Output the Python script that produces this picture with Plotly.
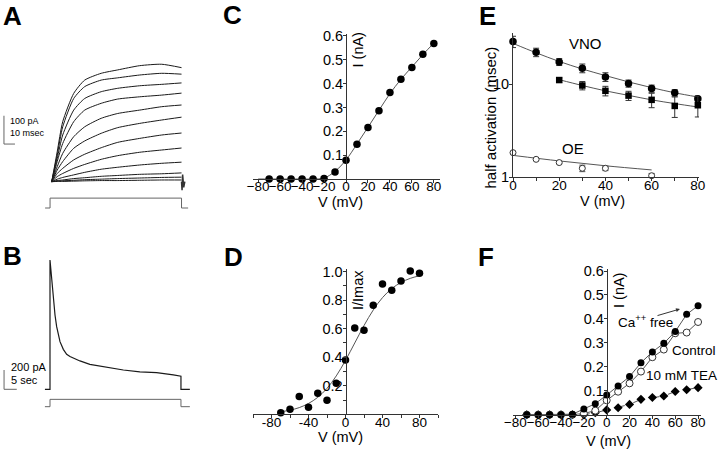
import plotly.graph_objects as go

W, H = 720, 451
FONT = "Liberation Sans, Arial, sans-serif"

# ---------------- data ----------------
# Panel A: current traces (pA) sampled at times (ms)
A_t = [0, 5, 10, 20, 30, 45, 60, 80, 100, 118]
A_traces = [
    [0, 106, 212, 312, 359, 383, 395, 410, 415, 403],
    [0, 94, 194, 294, 336, 359, 367, 377, 383, 380],
    [0, 82, 165, 253, 294, 318, 330, 339, 344, 349],
    [0, 71, 135, 212, 253, 277, 292, 300, 306, 313],
    [0, 53, 100, 159, 194, 224, 241, 253, 265, 271],
    [0, 41, 71, 118, 144, 171, 191, 206, 218, 228],
    [0, 29, 47, 77, 97, 120, 139, 153, 165, 172],
    [0, 18, 29, 47, 61, 79, 92, 104, 112, 119],
    [0, 9, 15, 24, 33, 44, 51, 59, 65, 69],
    [0, 4, 6, 11, 14, 19, 22, 26, 28, 31],
    [0, 2, 3, 5, 7, 9, 11, 13, 15, 16],
    [0, 1, 1, 2, 3, 4, 4, 5, 6, 6],
]
A_step_t = [-6, -1.5, -1.5, 118, 118, 124]
A_step_v = [-93, -93, -58, -58, -93, -93]
A_bar_t = [-43.4, -43.4, -33.4]
A_bar_v = [233, 133, 133]
A_tail_t = [118, 118.5, 119, 120, 121]
A_tail_v = [0, -30, 25, -20, 0]

# Panel B: slow current (pA) vs time (s)
B_t = [-2, 0, 0, 0.66, 1.31, 1.97, 2.62, 3.28, 3.94, 5.25, 6.56, 7.87, 9.19,
       11.8, 15.7, 22.3, 28.9, 35.4, 42.0, 48.6, 51.2, 51.6, 51.6, 55.1]
B_i = [0, 0, 1340, 1133, 926, 770, 649, 563, 494, 414, 363, 339, 321,
       294, 259, 228, 200, 180, 173, 149, 138, 136, 0, 0]
B_step_t = [-2, 0, 0, 51.6, 51.6, 55.1]
B_step_v = [-180, -180, -104, -104, -180, -180]
B_bar_t = [-18.1, -18.1, -13.1]
B_bar_v = [200, 0, 0]

# Panel C: I-V
C_v = [-70, -60, -50, -40, -30, -20, -10, 0, 10, 20, 30, 40, 50, 60, 70, 80]
C_i = [0, 0, 0, 0, 0, 0.002, 0.029, 0.079, 0.146, 0.216, 0.286, 0.363, 0.418, 0.468, 0.523, 0.568]
C_fit_v = [-80, -70, -60, -50, -40, -30, -20, -10, 0, 10, 20, 30, 40, 50, 60, 70, 80]
C_fit_i = [0, 0, 0, 0, 0, 0, 0.004, 0.032, 0.08, 0.147, 0.217, 0.288, 0.358, 0.418, 0.47, 0.522, 0.57]

# Panel D: normalised conductance
D_v = [-70, -60, -50, -40, -30, -20, -10, 0, 10, 20, 30, 40, 50, 60, 70, 80]
D_g = [0.01, 0.035, 0.124, 0.05, 0.147, 0.098, 0.217, 0.38, 0.605, 0.589, 0.764, 0.913, 0.869, 0.935, 1.005, 0.988]
D_fit_v = [-70, -60, -50, -40, -30, -20, -10, 0, 10, 20, 30, 40, 50, 60, 70, 80]
D_fit_g = [0.018, 0.029, 0.047, 0.076, 0.119, 0.182, 0.269, 0.378, 0.5, 0.622, 0.731, 0.818, 0.881, 0.924, 0.953, 0.971]

# Panel E: half activation time (msec)
E_v = [0, 10, 20, 30, 40, 50, 60, 70, 80]
E_vno1 = [28.8, 22.1, 17.4, 14.9, 12.0, 10.2, 9.0, 8.1, 7.0]
E_vno1_err = [4.0, 2.3, 1.5, 1.6, 1.3, 0.9, 0.8, 0.65, 0.5]
E_vno1_fit = [27.5, 21.8, 17.6, 14.6, 12.4, 10.6, 9.2, 8.1, 7.3]
E_v2 = [20, 30, 40, 50, 60, 70, 80]
E_vno2 = [11.1, 9.7, 8.5, 7.55, 6.8, 5.85, 5.95]
E_vno2_err = [0.6, 1.0, 1.0, 0.85, 1.2, 1.45, 1.5]
E_vno2_fit = [11.2, 9.7, 8.5, 7.6, 6.8, 6.2, 5.7]
E_v3 = [0, 10, 20, 30, 40, 50, 60]
E_oe = [1.84, 1.56, 1.44, 1.25, 1.25, 0.99, 1.04]
E_oe_err = [0.06, 0.03, 0.04, 0.1, 0.07, 0.0, 0.06]
E_oe_fit_v = [0, 20, 40, 60]
E_oe_fit = [1.72, 1.5, 1.33, 1.2]

# Panel F: I-V under conditions
F_v = [-70, -60, -50, -40, -30, -20, -10, 0, 10, 20, 30, 40, 50, 60, 70, 80]
F_ca_free = [0, 0, 0, 0, 0.002, 0.024, 0.046, 0.082, 0.12, 0.159, 0.217, 0.262, 0.298, 0.347, 0.419, 0.455]
F_control = [0, 0, 0, 0, 0, 0.005, 0.017, 0.06, 0.096, 0.131, 0.18, 0.24, 0.272, 0.34, 0.343, 0.387]
F_tea = [0, 0, 0, 0, 0, 0, 0.008, 0.02, 0.029, 0.043, 0.064, 0.072, 0.078, 0.097, 0.104, 0.113]


def px(x):
    return x / W


def py(y):
    return 1 - y / H


fig = go.Figure()
TRACE = "#1a1a1a"
FIT = "#555555"

# ---- Panel A ----
for tr in A_traces:
    fig.add_trace(go.Scatter(x=A_t, y=tr, mode="lines", line=dict(color=TRACE, width=1, shape="spline", smoothing=0.6),
                             xaxis="x5", yaxis="y5"))
fig.add_trace(go.Scatter(x=A_tail_t, y=A_tail_v, mode="lines", line=dict(color="#333", width=1.5), xaxis="x5", yaxis="y5"))
fig.add_trace(go.Scatter(x=A_step_t, y=A_step_v, mode="lines", line=dict(color="#666", width=1), xaxis="x5", yaxis="y5"))
fig.add_trace(go.Scatter(x=A_bar_t, y=A_bar_v, mode="lines", line=dict(color="#666", width=1), xaxis="x5", yaxis="y5"))

# ---- Panel B ----
fig.add_trace(go.Scatter(x=B_t, y=B_i, mode="lines", line=dict(color=TRACE, width=1.2), xaxis="x6", yaxis="y6"))
fig.add_trace(go.Scatter(x=B_step_t, y=B_step_v, mode="lines", line=dict(color="#666", width=1), xaxis="x6", yaxis="y6"))
fig.add_trace(go.Scatter(x=B_bar_t, y=B_bar_v, mode="lines", line=dict(color="#666", width=1), xaxis="x6", yaxis="y6"))

# ---- Panel C ----
fig.add_trace(go.Scatter(x=C_fit_v, y=C_fit_i, mode="lines", line=dict(color=FIT, width=1, shape="spline"), xaxis="x", yaxis="y"))
fig.add_trace(go.Scatter(x=C_v, y=C_i, mode="markers", marker=dict(color="black", size=7.5), cliponaxis=False, xaxis="x", yaxis="y"))

# ---- Panel D ----
fig.add_trace(go.Scatter(x=D_fit_v, y=D_fit_g, mode="lines", line=dict(color=FIT, width=1, shape="spline"), xaxis="x2", yaxis="y2"))
fig.add_trace(go.Scatter(x=D_v, y=D_g, mode="markers", marker=dict(color="black", size=7.5), cliponaxis=False, xaxis="x2", yaxis="y2"))

# ---- Panel E ----
fig.add_trace(go.Scatter(x=E_v, y=E_vno1_fit, mode="lines", line=dict(color=FIT, width=1, shape="spline"), xaxis="x3", yaxis="y3"))
fig.add_trace(go.Scatter(x=E_v2, y=E_vno2_fit, mode="lines", line=dict(color=FIT, width=1, shape="spline"), xaxis="x3", yaxis="y3"))
fig.add_trace(go.Scatter(x=E_oe_fit_v, y=E_oe_fit, mode="lines", line=dict(color=FIT, width=1, shape="spline"), xaxis="x3", yaxis="y3"))
fig.add_trace(go.Scatter(x=E_v, y=E_vno1, mode="markers", marker=dict(color="black", size=7.5, symbol="circle"),
                         error_y=dict(type="data", array=E_vno1_err, color="#333", thickness=1, width=3),
                         cliponaxis=False, xaxis="x3", yaxis="y3"))
fig.add_trace(go.Scatter(x=E_v2, y=E_vno2, mode="markers", marker=dict(color="black", size=6.5, symbol="square"),
                         error_y=dict(type="data", array=E_vno2_err, color="#333", thickness=1, width=3),
                         cliponaxis=False, xaxis="x3", yaxis="y3"))
fig.add_trace(go.Scatter(x=E_v3, y=E_oe, mode="markers",
                         marker=dict(color="white", size=6, symbol="circle", line=dict(color="#333", width=1)),
                         error_y=dict(type="data", array=E_oe_err, color="#555", thickness=1, width=3),
                         cliponaxis=False, xaxis="x3", yaxis="y3"))

# ---- Panel F ----
fig.add_trace(go.Scatter(x=F_v, y=F_tea, mode="lines+markers", line=dict(color=FIT, width=1, dash="dash"),
                         marker=dict(color="black", size=7, symbol="diamond"), cliponaxis=False, xaxis="x4", yaxis="y4"))
fig.add_trace(go.Scatter(x=F_v, y=F_control, mode="lines+markers", line=dict(color=FIT, width=1),
                         marker=dict(color="white", size=7, line=dict(color="#333", width=1)), cliponaxis=False,
                         xaxis="x4", yaxis="y4"))
fig.add_trace(go.Scatter(x=F_v, y=F_ca_free, mode="lines+markers", line=dict(color=FIT, width=1),
                         marker=dict(color="black", size=7), cliponaxis=False, xaxis="x4", yaxis="y4"))

ax_common = dict(showgrid=False, zeroline=False, showline=True, linecolor="#333", linewidth=1,
                 ticks="outside", ticklen=3, tickcolor="#333", tickangle=0, automargin=False)
xax = dict(ticklabelstandoff=-8, tickfont=dict(family=FONT, size=13.5, color="black"), **ax_common)
yax = dict(ticklabelstandoff=-3, tickfont=dict(family=FONT, size=14.5, color="black"), **ax_common)
hidden = dict(visible=False, showgrid=False, zeroline=False, automargin=False)

layout = dict(
    width=W, height=H, margin=dict(l=0, r=0, t=0, b=0, pad=0, autoexpand=False),
    paper_bgcolor="white", plot_bgcolor="rgba(0,0,0,0)", showlegend=False,
    font=dict(family=FONT, color="black"),
    # C
    xaxis=dict(domain=[px(253), px(440)], range=[-84.7, 85.6], anchor="y",
               tickvals=[-80, -60, -40, -20, 0, 20, 40, 60, 80], **xax),
    yaxis=dict(domain=[py(179), py(33.6)], range=[0, 0.61], anchor="free", position=px(346),
               tickvals=[0.1, 0.2, 0.3, 0.4, 0.5, 0.6], **yax),
    # D
    xaxis2=dict(domain=[px(253), px(438)], range=[-100, 100], anchor="y2",
                tickvals=[-100, -80, -60, -40, -20, 0, 20, 40, 60, 80, 100],
                ticktext=["", "-80", "", "-40", "", "0", "", "40", "", "80", ""], **xax),
    yaxis2=dict(domain=[py(414.3), py(268.8)], range=[0, 1.02], anchor="free", position=px(345.5),
                tickvals=[0.1, 0.2, 0.3, 0.4, 0.5, 0.6, 0.7, 0.8, 0.9, 1.0],
                ticktext=["", "0.2", "", "0.4", "", "0.6", "", "0.8", "", "1.0"], **yax),
    # E
    xaxis3=dict(domain=[px(513), px(699)], range=[0, 80.5], anchor="y3",
                tickvals=[0, 10, 20, 30, 40, 50, 60, 70, 80],
                ticktext=["0", "", "20", "", "40", "", "60", "", "80"], **xax),
    yaxis3=dict(domain=[py(177.3), py(33.1)], type="log", range=[0, 1.55], anchor="x3",
                tickvals=[1, 10], ticktext=["1", "10"], **yax),
    # F
    xaxis4=dict(domain=[px(512.7), px(700.7)], range=[-82.3, 82.3], anchor="y4",
                tickvals=[-80, -60, -40, -20, 0, 20, 40, 60, 80], **xax),
    yaxis4=dict(domain=[py(414.7), py(268.6)], range=[0, 0.61], anchor="free", position=px(606.7),
                tickvals=[0.1, 0.2, 0.3, 0.4, 0.5, 0.6], **yax),
    # A
    xaxis5=dict(domain=[0, px(200)], range=[-47, 134.8], anchor="y5", **hidden),
    yaxis5=dict(domain=[py(215), py(55)], range=[-117.7, 447.7], anchor="x5", **hidden),
    # B
    xaxis6=dict(domain=[0, px(200)], range=[-19.7, 59.1], anchor="y6", **hidden),
    yaxis6=dict(domain=[py(420), py(250)], range=[-318, 1443.5], anchor="x6", **hidden),
)
fig.update_layout(**layout)

ann = []


def text(x, y, s, size=15, angle=0, xanchor="center", bold=False, color="black"):
    ann.append(dict(x=px(x), y=py(y), xref="paper", yref="paper", text=f"<b>{s}</b>" if bold else s,
                    showarrow=False, textangle=angle, xanchor=xanchor, yanchor="middle",
                    font=dict(family=FONT, size=size, color=color)))


# panel letters
for L, x, y in [("A", 12, 16), ("B", 13, 256), ("C", 232, 15), ("D", 233, 257), ("E", 487, 16), ("F", 486, 257)]:
    text(x, y, L, size=26, bold=True)

# scale bar labels
text(7.5, 121, "100 pA", size=9, xanchor="left")
text(7.5, 133, "10 msec", size=9, xanchor="left")
text(8.5, 367, "200 pA", size=11, xanchor="left")
text(8.5, 380, "5 sec", size=11, xanchor="left")

# axis titles
text(340, 202, "V (mV)", size=14.5)
text(340, 437, "V (mV)", size=14.5)
text(602.5, 201, "V (mV)", size=14.5)
text(608.5, 441, "V (mV)", size=14.5)
text(358, 50.5, "I (nA)", size=14.5, angle=-90)
text(358, 290, "I/Imax", size=14.5, angle=-90)
text(619, 291, "I (nA)", size=14.5, angle=-90)
text(490, 117.5, "half activation (msec)", size=15, angle=-90)

# E labels
text(585, 44, "VNO", size=15)
text(572.5, 148, "OE", size=15)

# F labels
text(645.5, 321, "Ca<sup>++</sup> free", size=13.5)
text(718, 350, "Control", size=13.5, xanchor="right")
text(719, 375, "10 mM TEA", size=13.5, xanchor="right")
ann.append(dict(x=px(680), y=py(309), xref="paper", yref="paper", ax=-24, ay=7, showarrow=True,
                arrowhead=2, arrowsize=0.8, arrowwidth=1, arrowcolor="#333", text=""))

fig.update_layout(annotations=ann)
fig.write_html("out.html", config={"displayModeBar": False},
               post_script="document.body.style.margin='0';document.body.style.overflow='hidden';")
